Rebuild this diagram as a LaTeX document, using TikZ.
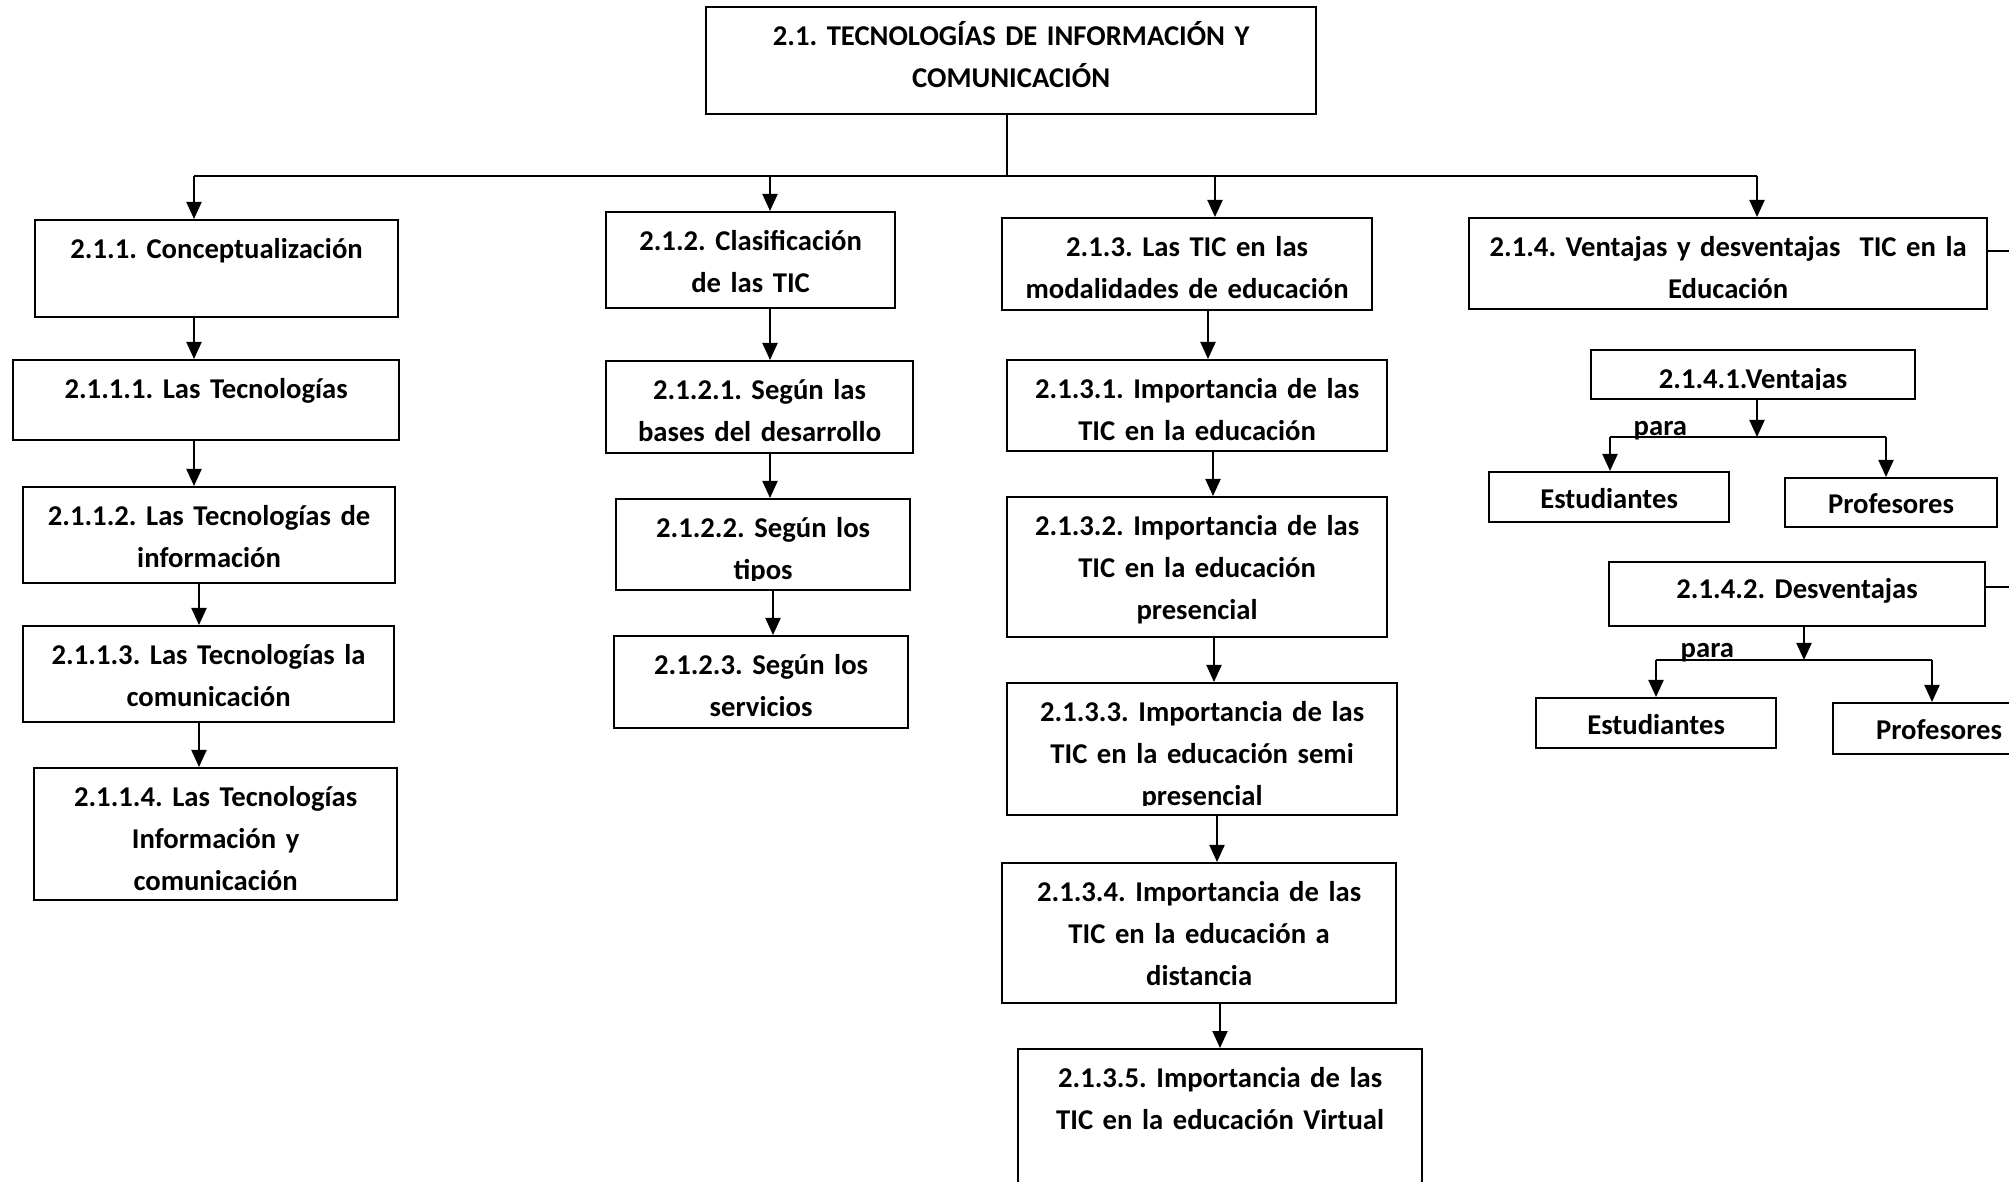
\documentclass[tikz,border=0pt]{standalone}
\usepackage{fontspec}
\setmainfont{Carlito}
\usepackage{tikz}
\usetikzlibrary{arrows.meta,calc}
\frenchspacing
\newcommand{\cutoff}[1]{\fill[white] ([xshift=0.025cm,yshift=0.025cm]#1.south west) rectangle ([xshift=-0.025cm,yshift=0.105cm]#1.south east);}

\begin{document}
\begin{tikzpicture}[x=0.01cm,y=-0.01cm,
    every node/.style={font=\fontsize{8.15}{11.95}\selectfont\bfseries},
    tbox/.style={draw,line width=0.02cm,inner sep=0pt,anchor=north west,align=center,text height=0.38cm},
    arr/.style={line width=0.02cm,-{Triangle[length=0.17cm,width=0.15cm]}},
    lnk/.style={line width=0.02cm}]

            \useasboundingbox (0,0) rectangle (2009,1182);
            \clip (0,0) rectangle (2009,1182);

            % Main box
            \node[tbox,text width=6.10cm,text depth=0.69cm] (root) at (705,6) {2.1. TECNOLOGÍAS DE INFORMACIÓN Y\\COMUNICACIÓN};

            % First column
            \node[tbox,text width=3.63cm,text depth=0.59cm] (c1) at (34,219) {2.1.1. Conceptualización};
            \node[tbox,text width=3.86cm,text depth=0.42cm] (c11) at (12,359) {2.1.1.1. Las Tecnologías};
            \node[tbox,text width=3.72cm,text depth=0.58cm] (c12) at (22,486) {2.1.1.2. Las Tecnologías de\\información};
            \node[tbox,text width=3.71cm,text depth=0.58cm] (c13) at (22,625) {2.1.1.3. Las Tecnologías la\\comunicación};
            \node[tbox,text width=3.63cm,text depth=0.94cm] (c14) at (33,767) {2.1.1.4. Las Tecnologías\\Información y\\comunicación};

            % Second column
            \node[tbox,text width=2.89cm,text depth=0.58cm] (c2) at (605,211) {2.1.2. Clasificación\\de las TIC};
            \node[tbox,text width=3.07cm,text depth=0.54cm] (c21) at (605,360) {2.1.2.1. Según las\\bases del desarrollo};
            \node[tbox,text width=2.94cm,text depth=0.53cm] (c22) at (615,498) {2.1.2.2. Según los\\tipos};
            \node[tbox,text width=2.94cm,text depth=0.54cm] (c23) at (613,635) {2.1.2.3. Según los\\servicios};

            % Third column
            \node[tbox,text width=3.70cm,text depth=0.54cm] (c3) at (1001,217) {2.1.3. Las TIC en las\\modalidades de educación};
            \node[tbox,text width=3.80cm,text depth=0.53cm] (c31) at (1006,359) {2.1.3.1. Importancia de las\\TIC en la educación};
            \node[tbox,text width=3.80cm,text depth=1.02cm] (c32) at (1006,496) {2.1.3.2. Importancia de las\\TIC en la educación\\presencial};
            \node[tbox,text width=3.90cm,text depth=0.94cm] (c33) at (1006,682) {2.1.3.3. Importancia de las\\TIC en la educación semi\\presencial};
            \node[tbox,text width=3.94cm,text depth=1.02cm] (c34) at (1001,862) {2.1.3.4. Importancia de las\\TIC en la educación a\\distancia};
            \node[tbox,text width=4.04cm,text depth=1.62cm] (c35) at (1017,1048) {2.1.3.5. Importancia de las\\TIC en la educación Virtual};

            % Fourth column
            \node[tbox,text width=5.18cm,text depth=0.53cm] (c4) at (1468,217) {2.1.4. Ventajas y desventajas\ \ TIC en la\\Educación};
            \node[tbox,text width=3.24cm,text depth=0.11cm] (c41) at (1590,349) {2.1.4.1.Ventajas};
            \node[tbox,text width=2.40cm,text height=0.36cm,text depth=0.14cm] (e1) at (1488,471) {Estudiantes};
            \node[tbox,text width=2.12cm,text height=0.35cm,text depth=0.14cm] (p1) at (1784,477) {Profesores};
            \node[tbox,text width=3.76cm,text height=0.36cm,text depth=0.28cm] (c42) at (1608,561) {2.1.4.2. Desventajas};
            \node[tbox,text width=2.40cm,text height=0.36cm,text depth=0.14cm] (e2) at (1535,697) {Estudiantes};
            \node[tbox,text width=2.12cm,text height=0.36cm,text depth=0.15cm] (p2) at (1832,702) {Profesores};

            % descenders cut by the boxes
            \cutoff{c41}
            \cutoff{c22}
            \cutoff{c33}

            % Bus under the main box
            \coordinate (hub) at (1007,176);
            \coordinate (b1) at (194,176);
            \coordinate (b2) at (770,176);
            \coordinate (b3) at (1215,176);
            \coordinate (b4) at (1757,176);
            \draw[lnk] (root.south -| hub) -- (hub);
            \draw[lnk] (b1) -- (b4);
            \foreach \b/\c in {b1/c1,b2/c2,b3/c3,b4/c4}
                \draw[arr] (\b) -- (\b |- \c.north);

            % Arrows down each column
            \foreach \a/\c/\x in {c1/c11/194,c11/c12/194,c12/c13/199,c13/c14/199,
                                  c2/c21/770,c21/c22/770,c22/c23/773,
                                  c3/c31/1208,c31/c32/1213,c32/c33/1214,c33/c34/1217,c34/c35/1220}
                \draw[arr] (\a.south -| \x,0) -- (\c.north -| \x,0);

            % Ventajas
            \coordinate (s1) at (1757,437);
            \coordinate (s1l) at (1610,437);
            \coordinate (s1r) at (1886,437);
            \draw[arr] (c41.south -| s1) -- (s1);
            \draw[lnk] (s1l) -- (s1r);
            \draw[arr] (s1l) -- (s1l |- e1.north);
            \draw[arr] (s1r) -- (s1r |- p1.north);
            \node[anchor=base west,inner sep=0pt] (para1) at (1633,435) {para};

            % Desventajas
            \coordinate (s2) at (1804,660);
            \coordinate (s2l) at (1656,660);
            \coordinate (s2r) at (1932,660);
            \draw[arr] (c42.south -| s2) -- (s2);
            \draw[lnk] (s2l) -- (s2r);
            \draw[arr] (s2l) -- (s2l |- e2.north);
            \draw[arr] (s2r) -- (s2r |- p2.north);
            \node[anchor=base west,inner sep=0pt] (para2) at (1680,657) {para};

            % Lines leaving to the right
            \coordinate (r1) at (2009,251);
            \coordinate (r2) at (2009,587);
            \draw[lnk] (c4.east |- r1) -- (r1);
            \draw[lnk] (c42.east |- r2) -- (r2);

\end{tikzpicture}
\end{document}
